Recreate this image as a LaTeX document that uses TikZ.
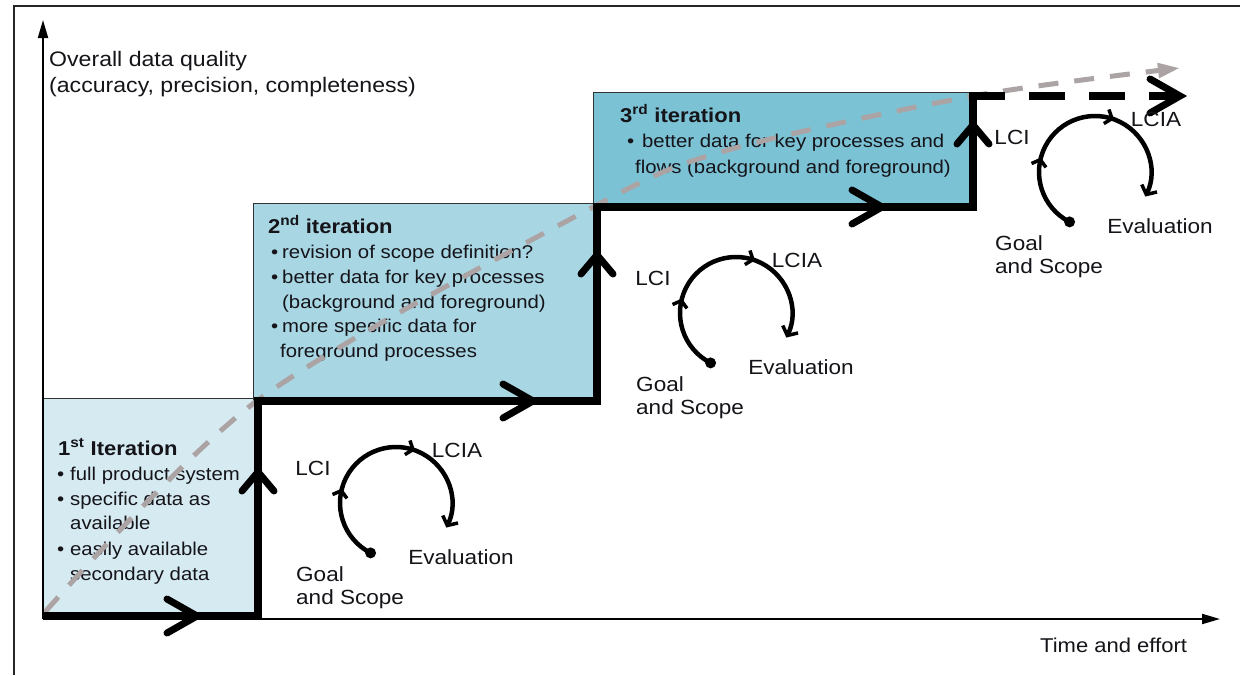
\documentclass[tikz,border=0pt]{standalone}
\usepackage{fontspec}
\setmainfont{Liberation Sans}[FakeStretch=1.1]
\usetikzlibrary{arrows.meta,decorations.markings,calc}
\definecolor{boxA}{RGB}{214,234,242}
\definecolor{boxB}{RGB}{168,214,227}
\definecolor{boxC}{RGB}{124,194,213}
\definecolor{dashgray}{RGB}{148,145,145}
\definecolor{tipgray}{RGB}{172,164,164}
\definecolor{txt}{RGB}{20,20,25}
\newcommand\itembul[1]{\makebox[#1][l]{\textbullet}}
\begin{document}
\begin{tikzpicture}[x=1pt,y=-1pt,
  every node/.style={inner sep=0pt, text=txt},
  body/.style={anchor=base west, font=\fontsize{18.5}{24}\selectfont},
  ttl/.style={anchor=base west, font=\bfseries\fontsize{20}{24}\selectfont},
  axlbl/.style={anchor=base west, font=\fontsize{21}{25}\selectfont},
  cyc/.style={font=\fontsize{20.5}{24}\selectfont},
  cycw/.style={anchor=base west, font=\fontsize{20.5}{24}\selectfont},
  iterbox/.style={draw=black!80, line width=1pt},
  stair/.style={line width=8pt, line join=miter},
  chev/.style={line width=7pt, line cap=round, line join=miter},
  axisline/.style={line width=2pt, -{Triangle[length=18pt,width=10pt]}},
  qual/.style={line width=5pt, draw=dashgray, dash pattern=on 20pt off 16pt},
  cycarc/.style={line width=4.5pt, -{Straight Barb[length=7pt,width=17pt,line width=3.5pt]},
    postaction={decorate},
    decoration={markings,
      mark=at position 0.29 with {\arrow{Straight Barb[length=6pt,width=15pt,line width=3.5pt]}},
      mark=at position 0.643 with {\arrow{Straight Barb[length=6pt,width=15pt,line width=3.5pt]}}}},
  hchev/.pic={\draw[chev] (-30,-17) -- (0,0) -- (-30,17);},
  vchev/.pic={\draw[chev] (-16,19) -- (0,0) -- (16,19);},
  lcycle/.pic={
    \fill[black] (-243:56) circle (5.5);
    \draw[cycarc] (-243:56) arc[start angle=-243, end angle=26, radius=56];
    \node[cyc] (lci) at (-83,-35) {LCI};
    \node[cyc] (lcia) at (61,-53) {LCIA};
    \node[cyc] (eval) at (65,54) {Evaluation};
    \node[cycw] (goal) at (-100,78) {Goal};
    \node[cycw] (scope) at (-100,101) {and Scope};
  }
]
\useasboundingbox (0,0) rectangle (1240,675);
\fill[white] (0,0) rectangle (1240,675);
% frame
\draw[line width=1.5pt, black!85] (14,675) -- (14,6) -- (1240,6);

% iteration boxes
\filldraw[iterbox, fill=boxA] (43,398) rectangle (258,616);
\filldraw[iterbox, fill=boxB] (253,203) rectangle (597,401);
\filldraw[iterbox, fill=boxC] (593,92) rectangle (973,207);

% texts
\node[axlbl] (yl1) at (49,66) {Overall data quality};
\node[axlbl] (yl2) at (49,92) {(accuracy, precision, completeness)};
\node[cycw, font=\fontsize{20}{24}\selectfont] (xl) at (1040,652) {Time and effort};

\node[ttl] (t1) at (58,455) {1\textsuperscript{st} Iteration};
\node[body] (b1a) at (57,480) {\itembul{13pt}full product system};
\node[body] (b1b) at (57,505) {\itembul{13pt}specific data as};
\node[body] (b1c) at (70,529) {available};
\node[body] (b1d) at (57,555) {\itembul{13pt}easily available};
\node[body] (b1e) at (70,580) {secondary data};

\node[ttl] (t2) at (268,233) {2\textsuperscript{nd} iteration};
\node[body] (b2a) at (271,258) {\itembul{11pt}revision of scope definition?};
\node[body] (b2b) at (271,283) {\itembul{11pt}better data for key processes};
\node[body] (b2c) at (282,308) {(background and foreground)};
\node[body] (b2d) at (271,332) {\itembul{11pt}more specific data for};
\node[body] (b2e) at (280,357) {foreground processes};

\node[ttl] (t3) at (620,122) {3\textsuperscript{rd} iteration};
\node[body] (b3a) at (627,147) {\itembul{15pt}better data for key processes and};
\node[body] (b3b) at (635,173) {flows (background and foreground)};

% quality trend (grey dashed)
\draw[qual, -{Triangle[length=22pt,width=14pt,fill=tipgray]}, tipgray]
  plot[smooth, tension=0.5] coordinates {(45,612) (258,400) (597,205) (728,150) (973,96) (1180,68)};

% axes
\coordinate (o) at (43,619);
\coordinate (ytop) at (43,20);
\coordinate (xend) at (1220,619);
\draw[axisline] (o) -- (ytop);
\draw[axisline] (o) -- (xend);

% staircase
\coordinate (s0) at (43,616);
\coordinate (s1) at (258,616);
\coordinate (s2) at (258,401);
\coordinate (s3) at (597,401);
\coordinate (s4) at (597,207);
\coordinate (s5) at (973,207);
\coordinate (s6) at (973,96);
\coordinate (s6b) at (969,96);
\coordinate (s7) at (1173,96);
\draw[stair] (s0) -- (s1) -- (s2) -- (s3) -- (s4) -- (s5) -- (s6);
\draw[stair, dash pattern=on 36pt off 24pt] (s6b) -- (s7);

% chevrons
\coordinate (h1) at (197,616);
\coordinate (v1) at (258,472);
\coordinate (h2) at (533,401);
\coordinate (v2) at (597,255);
\coordinate (h3) at (882,207);
\coordinate (v3) at (973,125);
\coordinate (hend) at (1180,96);
\pic at (h1) {hchev};
\pic at (v1) {vchev};
\pic at (h2) {hchev};
\pic at (v2) {vchev};
\pic at (h3) {hchev};
\pic at (v3) {vchev};
\pic at (hend) {hchev};

% iterative cycles
\pic (c1) at (396,503) {lcycle};
\pic (c2) at (736,313) {lcycle};
\pic (c3) at (1095,172) {lcycle};
\end{tikzpicture}
\end{document}
